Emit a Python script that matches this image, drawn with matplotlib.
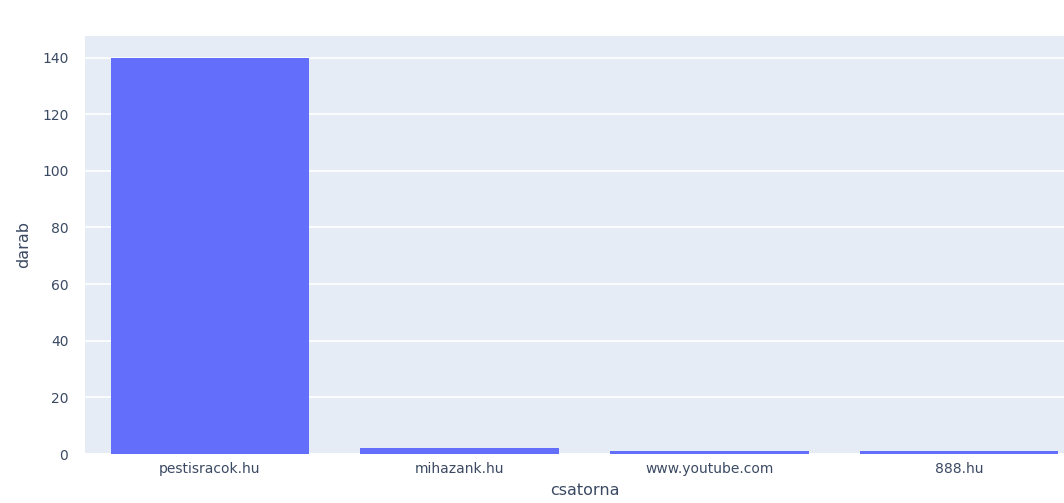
import matplotlib.pyplot as plt

csatorna = ["pestisracok.hu", "mihazank.hu", "www.youtube.com", "888.hu"]
darab = [140, 2, 1, 1]

fig = plt.figure(figsize=(10.64, 5.03), dpi=100)
# plot area runs past the right edge, as in the cropped screenshot
ax = fig.add_axes([85 / 1064, 49 / 503, 999 / 1064, 418 / 503])
ax.set_facecolor("#e5ecf6")

ax.bar(range(len(csatorna)), darab, width=0.795, color="#636efa", zorder=2)

ax.set_xlim(-0.5, 3.5)
ax.set_ylim(0, 147.6)
ax.set_yticks(range(0, 141, 20))
ax.set_xticks(range(len(csatorna)))
ax.set_xticklabels(csatorna)
ax.grid(axis="y", color="white", linewidth=1.2, zorder=0)
ax.axhline(0, color="white", linewidth=2, zorder=1)

for s in ax.spines.values():
    s.set_visible(False)
ax.tick_params(length=0, labelsize=10, labelcolor="#3b4a63", pad=6)
ax.tick_params(axis="y", pad=12)

ax.set_xlabel("csatorna", fontsize=11.5, color="#3b4a63", labelpad=5)
ax.set_ylabel("darab", fontsize=11.5, color="#3b4a63", labelpad=8)

plt.savefig("out.png", dpi=100)
